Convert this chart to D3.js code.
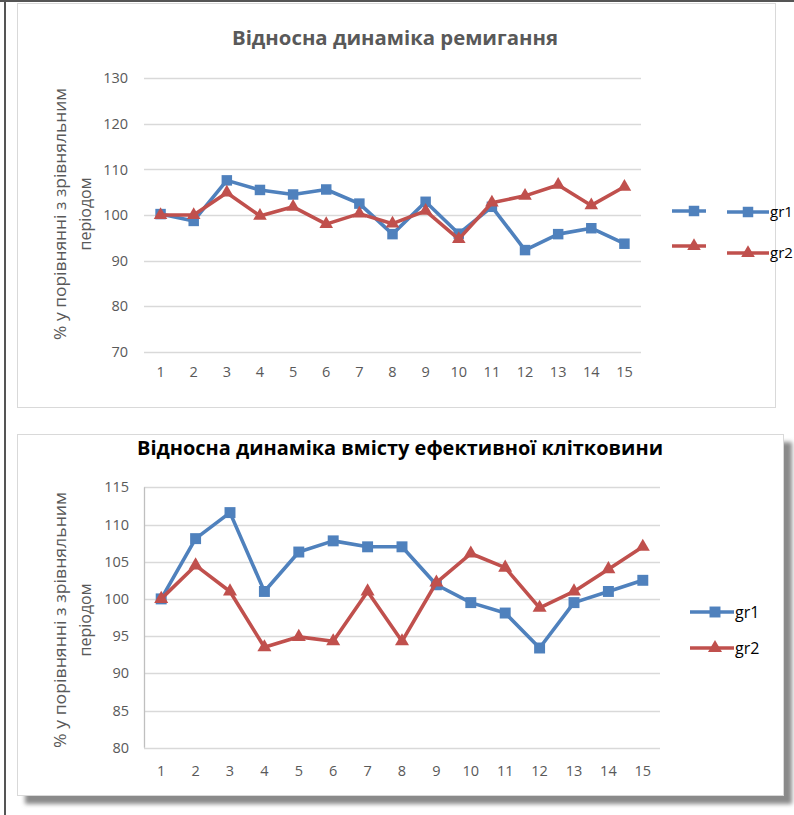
<!DOCTYPE html>
<html><head><meta charset="utf-8">
<script src="https://cdn.jsdelivr.net/npm/d3@7"></script>
<style>body{margin:0;background:#fff}svg{display:block}</style>
</head><body>
<svg id="c" width="794" height="815"></svg>
<script>
const categories = [1,2,3,4,5,6,7,8,9,10,11,12,13,14,15];
const seriesNames = ["gr1","gr2"];
// Chart 1: Відносна динаміка ремигання
const remGr1 = [100.2,98.7,107.6,105.5,104.5,105.6,102.5,95.8,102.9,95.9,101.8,92.3,95.8,97.1,93.7];
const remGr2 = [100.0,100.0,104.9,99.8,101.8,98.0,100.3,98.1,100.9,94.7,102.7,104.2,106.6,102.1,106.2];
const remTicks = [70,80,90,100,110,120,130];
// Chart 2: Відносна динаміка вмісту ефективної клітковини
const fibGr1 = [100.0,108.1,111.6,101.0,106.3,107.8,107.0,107.0,101.9,99.5,98.1,93.4,99.5,101.0,102.5];
const fibGr2 = [100.0,104.5,101.0,93.5,94.9,94.3,101.0,94.3,102.2,106.1,104.2,98.8,101.0,104.0,107.0];
const fibTicks = [80,85,90,95,100,105,110,115];
const titles = ["Відносна динаміка ремигання","Відносна динаміка вмісту ефективної клітковини"];
const yLabel1 = "% у порівнянні з зрівняльним";
const yLabel2 = "періодом";

const BLUE = "#4f81bd", RED = "#c0504d", GRID = "#d9d9d9", TXT = "#595959";
const FONT = "'Open Sans', 'DejaVu Sans', sans-serif";
const svg = d3.select("#c");
const defs = svg.append("defs");
const f = defs.append("filter").attr("id","sh").attr("x","-5%").attr("y","-5%").attr("width","110%").attr("height","110%");
f.append("feGaussianBlur").attr("stdDeviation",2);

// page border lines
svg.append("line").attr("x1",0).attr("x2",794).attr("y1",1).attr("y2",1).attr("stroke","#555").attr("stroke-width",2);
svg.append("line").attr("x1",5).attr("x2",5).attr("y1",0).attr("y2",815).attr("stroke","#555").attr("stroke-width",2);

// frames
svg.append("rect").attr("x",17.5).attr("y",3.5).attr("width",758).attr("height",404).attr("fill","#fff").attr("stroke",GRID);
svg.append("rect").attr("x",25).attr("y",442).attr("width",767).attr("height",362).attr("fill","#8a8a8a").attr("filter","url(#sh)");
svg.append("rect").attr("x",17.5).attr("y",434.5).attr("width",766).attr("height",361).attr("fill","#fff").attr("stroke",GRID);

function drawChart(cfg){
  const g = svg.append("g");
  const x = d3.scaleBand().domain(categories).range(cfg.xr).padding(0);
  const y = d3.scaleLinear().domain(cfg.yd).range(cfg.yr);
  // grid
  g.selectAll(null).data(cfg.ticks).enter().append("line")
    .attr("x1",cfg.xr[0]).attr("x2",cfg.xr[1])
    .attr("y1",d=>Math.round(y(d))+0.5).attr("y2",d=>Math.round(y(d))+0.5)
    .attr("stroke",GRID).attr("stroke-width",1.3);
  if(cfg.yAxisLine){
    g.append("line").attr("x1",cfg.xr[0]+0.5).attr("x2",cfg.xr[0]+0.5)
      .attr("y1",cfg.yr[1]).attr("y2",cfg.yr[0]).attr("stroke","#bfbfbf").attr("stroke-width",1.3);
  }
  // y tick labels
  g.selectAll(null).data(cfg.ticks).enter().append("text")
    .attr("x",cfg.tickX).attr("y",d=>y(d)).attr("dy","0.35em")
    .attr("text-anchor","end").attr("font-family",FONT).attr("font-size",14.5).attr("fill",TXT)
    .text(d=>d);
  // x tick labels
  g.selectAll(null).data(categories).enter().append("text")
    .attr("x",d=>x(d)+x.bandwidth()/2).attr("y",cfg.xLabY).attr("dy","0.35em")
    .attr("text-anchor","middle").attr("font-family",FONT).attr("font-size",14.5).attr("fill",TXT)
    .text(d=>d);
  // title
  g.append("text").attr("x",cfg.titleX).attr("y",cfg.titleY).attr("text-anchor","middle")
    .attr("font-family",FONT).attr("font-weight","bold").attr("font-size",cfg.titleSize)
    .attr("fill",cfg.titleColor).attr("textLength",cfg.titleLen).attr("lengthAdjust","spacingAndGlyphs")
    .text(cfg.title);
  // y label
  const cy = cfg.labCY;
  g.append("text").attr("transform",`translate(${cfg.labX1},${cy}) rotate(-90)`).attr("text-anchor","middle")
    .attr("dy","0.35em").attr("font-family",FONT).attr("font-size",16).attr("fill",TXT)
    .attr("textLength",cfg.labLen).attr("lengthAdjust","spacingAndGlyphs").text(yLabel1);
  g.append("text").attr("transform",`translate(${cfg.labX2},${cy}) rotate(-90)`).attr("text-anchor","middle")
    .attr("dy","0.35em").attr("font-family",FONT).attr("font-size",16).attr("fill",TXT).text(yLabel2);
  // series
  const line = d3.line().x((d,i)=>x(categories[i])+x.bandwidth()/2).y(d=>y(d));
  const sq = d3.symbol().type(d3.symbolSquare).size(cfg.sqSize);
  const tri = d3.symbol().type(d3.symbolTriangle).size(cfg.triSize);
  [[cfg.s1,BLUE,sq],[cfg.s2,RED,tri]].forEach(([data,col,sym])=>{
    g.append("path").attr("d",line(data)).attr("fill","none").attr("stroke",col)
      .attr("stroke-width",3.6).attr("stroke-linejoin","round");
    g.selectAll(null).data(data).enter().append("path")
      .attr("transform",(d,i)=>`translate(${x(categories[i])+x.bandwidth()/2},${y(d)})`)
      .attr("d",sym()).attr("fill",col);
  });
  // legend
  cfg.legend.forEach((row,ri)=>{
    const col = ri===0?BLUE:RED, sym = ri===0?sq:tri;
    row.items.forEach(it=>{
      g.append("line").attr("x1",it.x1).attr("x2",it.x2).attr("y1",it.y).attr("y2",it.y)
        .attr("stroke",col).attr("stroke-width",3.6);
      g.append("path").attr("transform",`translate(${it.m},${it.y})`).attr("d",sym()).attr("fill",col);
    });
    g.append("text").attr("x",row.tx).attr("y",row.ty).attr("dy","0.35em").attr("font-family",FONT)
      .attr("font-size",cfg.legSize).attr("fill","#000").text(seriesNames[ri]);
  });
}

drawChart({
  xr:[144,641], yd:[70,130], yr:[351.7,78.3], ticks:remTicks,
  s1:remGr1, s2:remGr2, tickX:128, xLabY:372, titleX:395, titleY:45, titleSize:19,
  titleColor:TXT, titleLen:326, title:titles[0], labX1:60, labX2:85, labCY:214, labLen:252,
  sqSize:110, triSize:80, yAxisLine:false, legSize:15,
  legend:[
    {items:[{x1:672,x2:706,m:694,y:211},{x1:727,x2:769,m:748,y:212}], tx:770, ty:212},
    {items:[{x1:672,x2:706,m:694,y:246},{x1:727,x2:769,m:748,y:253}], tx:770, ty:253}
  ]
});
drawChart({
  xr:[144,660], yd:[80,115], yr:[747.7,487.3], ticks:fibTicks,
  s1:fibGr1, s2:fibGr2, tickX:129, xLabY:771, titleX:400, titleY:455, titleSize:19.5,
  titleColor:"#000", titleLen:526, title:titles[1], labX1:60, labX2:85, labCY:620, labLen:256,
  sqSize:120, triSize:85, yAxisLine:true, legSize:16,
  legend:[
    {items:[{x1:690,x2:734,m:715,y:612}], tx:735, ty:612},
    {items:[{x1:690,x2:734,m:715,y:648}], tx:735, ty:648}
  ]
});
</script>
</body></html>
